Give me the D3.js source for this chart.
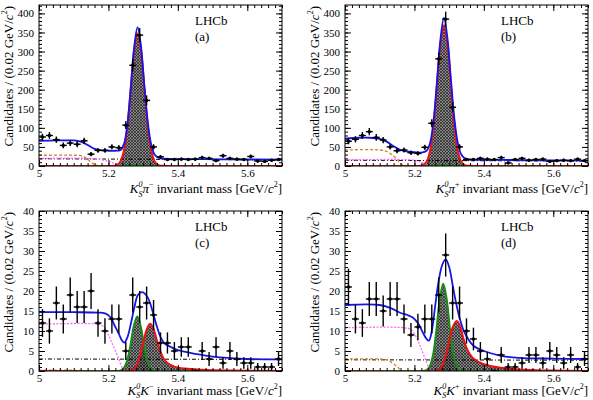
<!DOCTYPE html>
<html>
<head>
<meta charset="utf-8">
<script src="https://cdn.jsdelivr.net/npm/d3@7"></script>
<style>
  body { margin: 0; background: #fff; }
  svg { display: block; font-family: "Liberation Serif", "Times New Roman", serif; }
</style>
</head>
<body>
<div id="wrapper"></div>
<script>
// bin centres (0.02 GeV bins from 5.0 to 5.7)
const massBins = [5.01,5.03,5.05,5.07,5.09,5.11,5.13,5.15,5.17,5.19,5.21,5.23,5.25,5.27,5.29,5.31,5.33,5.35,
                  5.37,5.39,5.41,5.43,5.45,5.47,5.49,5.51,5.53,5.55,5.57,5.59,5.61,5.63,5.65,5.67,5.69];

// candidates per bin
const countsA = [76,80,69,54,60,57,66,31,41,41,50,48,107,264,343,172,50,24,17,17,18,17,18,22,20,14,27,20,18,17,25,13,12,15,17];
const countsB = [65,70,80,90,75,68,50,40,42,35,33,49,112,281,385,154,50,17,17,20,18,17,22,8,17,20,15,17,18,12,14,15,14,18,14];
const countsC = [12,10,17,13,19,16,16,20,12,10,13,13,5,19,16,17,14,7,7,5,6,6,0,5,3,6,2,5,3,2,2,1,1,1,3];
const countsD = [21,13,12,18,18,15,18,18,13,9,11,13,13,19,29,17,17,10,8,5,3,0,4,1,1,2,4,4,2,5,4,2,4,1,3];

// fit components, [mass, candidates]
const totalA = [[5.00,66],[5.05,67],[5.10,67],[5.12,64],[5.14,55],[5.16,45],[5.18,41],[5.20,40],[5.22,40],[5.235,42],
  [5.245,58],[5.255,112],[5.265,212],[5.275,318],[5.284,364],[5.293,320],[5.303,216],[5.313,118],[5.323,57],[5.333,30],
  [5.345,21],[5.36,19],[5.45,18],[5.55,17.5],[5.70,16.5]];
const signalA = [[5.00,0],[5.20,0],[5.224,2],[5.234,11],[5.244,38],[5.254,100],[5.264,199],[5.274,302],[5.284,347],
  [5.294,302],[5.304,199],[5.314,100],[5.324,38],[5.334,11],[5.344,2.5],[5.37,0.3],[5.70,0]];
const otherA = [[5.00,0],[5.25,0],[5.27,1.5],[5.285,2.5],[5.30,1.5],[5.32,0],[5.70,0]];
const partRecoA = [[5.00,20],[5.14,20],[5.17,18],[5.20,12],[5.22,6],[5.24,1],[5.25,0],[5.70,0]];
const charmlessA = [[5.00,28],[5.11,28],[5.12,27],[5.13,24],[5.14,18],[5.15,10],[5.16,4],[5.17,1],[5.18,0],[5.70,0]];
const combA = [[5.00,19],[5.70,16]];

const totalB = [[5.00,72],[5.04,74],[5.07,74],[5.10,71],[5.12,64],[5.14,52],[5.16,42],[5.18,38],[5.20,36],[5.22,35],
  [5.235,40],[5.245,60],[5.255,118],[5.265,222],[5.275,332],[5.285,388],[5.295,336],[5.305,228],[5.315,125],[5.325,60],
  [5.335,30],[5.345,20],[5.36,17],[5.45,16],[5.55,15],[5.70,14]];
const signalB = [[5.00,0],[5.20,0],[5.225,2.5],[5.235,11],[5.245,40],[5.255,106],[5.265,212],[5.275,321],[5.285,369],
  [5.295,321],[5.305,212],[5.315,106],[5.325,40],[5.335,11],[5.345,2.5],[5.37,0.3],[5.70,0]];
const otherB = [[5.00,0],[5.25,0],[5.27,1.5],[5.285,2.5],[5.30,1.5],[5.32,0],[5.70,0]];
const partRecoB = [[5.00,16],[5.19,16],[5.21,13],[5.23,6],[5.245,1],[5.26,0],[5.70,0]];
const charmlessB = [[5.00,42],[5.10,42],[5.12,38],[5.14,26],[5.155,12],[5.165,3],[5.175,0],[5.70,0]];
const combB = [[5.00,15],[5.70,13]];

const totalC = [[5.00,14.7],[5.10,14.7],[5.17,14.6],[5.19,14.4],[5.205,13.5],[5.22,11],[5.23,9.3],[5.24,7.5],[5.246,7.1],
  [5.255,8.5],[5.265,12],[5.275,16],[5.285,19],[5.297,19.7],[5.31,18.8],[5.32,17],[5.33,14],[5.34,11],[5.35,8.5],
  [5.36,7],[5.38,6],[5.40,5.2],[5.45,4.3],[5.50,3.6],[5.60,3],[5.70,2.9]];
const signalC = [[5.00,0],[5.26,0],[5.27,0.3],[5.28,1.2],[5.29,3.5],[5.30,7],[5.31,10.3],[5.32,11.8],[5.33,10.5],
  [5.34,7.5],[5.35,4.8],[5.36,3],[5.37,2],[5.39,1.1],[5.42,0.6],[5.47,0.3],[5.55,0.1],[5.70,0]];
const otherC = [[5.00,0],[5.22,0],[5.233,0.1],[5.243,0.6],[5.253,2.35],[5.263,6.2],[5.273,11.2],[5.283,13.6],
  [5.293,11.2],[5.303,6.2],[5.313,2.35],[5.323,0.6],[5.333,0.1],[5.35,0],[5.70,0]];
const partRecoC = [[5.00,11.7],[5.17,11.7],[5.185,11.2],[5.20,9],[5.215,6],[5.23,3],[5.24,0.8],[5.25,0],[5.70,0]];
const charmlessC = [[5.00,0.2],[5.10,0.2],[5.15,0],[5.70,0]];
const combC = [[5.00,3],[5.70,2.9]];

const totalD = [[5.00,16.5],[5.10,16.5],[5.13,15.8],[5.16,14.5],[5.18,14],[5.195,13.4],[5.21,12],[5.225,9.5],[5.235,8],
  [5.242,7.6],[5.25,10],[5.258,15],[5.268,21.5],[5.28,26.5],[5.29,27.9],[5.30,26],[5.31,21.5],[5.32,17],[5.33,13.3],
  [5.34,10.5],[5.35,8.7],[5.37,6.3],[5.40,5],[5.45,3.8],[5.50,3.3],[5.60,3.1],[5.70,3]];
const signalD = [[5.00,0],[5.26,0],[5.27,0.3],[5.28,1.3],[5.29,3.7],[5.30,7.4],[5.31,10.9],[5.322,12.5],[5.33,11.5],
  [5.34,8.5],[5.35,5.8],[5.36,4.2],[5.37,3.1],[5.40,1.7],[5.45,0.8],[5.50,0.4],[5.60,0.1],[5.70,0]];
const otherD = [[5.00,0],[5.22,0],[5.233,0.17],[5.243,0.96],[5.253,3.75],[5.263,10],[5.273,17.9],[5.283,21.8],
  [5.293,17.9],[5.303,10],[5.313,3.75],[5.323,0.96],[5.333,0.17],[5.35,0],[5.70,0]];
const partRecoD = [[5.00,10.8],[5.17,10.8],[5.19,10.3],[5.205,8.5],[5.22,5.5],[5.235,2.2],[5.245,0.3],[5.25,0],[5.70,0]];
const charmlessD = [[5.00,3],[5.10,3],[5.12,2.8],[5.14,1.8],[5.155,0.7],[5.165,0],[5.70,0]];
const combD = [[5.00,2.8],[5.70,2.7]];

const massDomain = [5.0, 5.7];
const xTickLabels = [5.0, 5.2, 5.4, 5.6];

const svg = d3.select("#wrapper").append("svg")
    .attr("width", 593)
    .attr("height", 400);

const defs = svg.append("defs");
const hatch = defs.append("pattern")
    .attr("id", "hatch")
    .attr("width", 3).attr("height", 3)
    .attr("patternUnits", "userSpaceOnUse");
hatch.append("rect").attr("width", 3).attr("height", 3).attr("fill", "rgba(95,95,95,0.75)");
hatch.append("path").attr("d", "M0,0L3,3M3,0L0,3").attr("stroke", "#111").attr("stroke-width", 0.6);

// text made of pieces: it = italic, sup / sub shift
function richText(sel, parts) {
    let shift = 0;
    parts.forEach(p => {
        const target = p.sup ? -6 : p.sub ? 3.5 : 0;
        const ts = sel.append("tspan").text(p.t).attr("dy", target - shift);
        shift = target;
        if (p.it) ts.attr("font-style", "italic");
        if (p.sup || p.sub) ts.attr("font-size", "8px");
        if (p.dx) ts.attr("dx", p.dx);
    });
}

const yTitle = [{t: "Candidates / (0.02 GeV/"}, {t: "c", it: true}, {t: "2", sup: true}, {t: ")"}];

const panels = [
    {name: "(a)", left: 39, right: 282, top: 5, bottom: 166, ymax: 422, major: 50, minor: 10, titleGap: 27,
     counts: countsA, total: totalA, signal: signalA, other: otherA, partReco: partRecoA, charmless: charmlessA, comb: combA,
     title: [{t: "K", it: true}, {t: "0", sup: true, it: true}, {t: "S", sub: true, it: true, dx: -4}, {t: "π", it: true},
             {t: "−", sup: true}, {t: " invariant mass [GeV/"}, {t: "c", it: true}, {t: "2", sup: true}, {t: "]"}]},
    {name: "(b)", left: 345, right: 588, top: 5, bottom: 166, ymax: 422, major: 50, minor: 10, titleGap: 27,
     counts: countsB, total: totalB, signal: signalB, other: otherB, partReco: partRecoB, charmless: charmlessB, comb: combB,
     title: [{t: "K", it: true}, {t: "0", sup: true, it: true}, {t: "S", sub: true, it: true, dx: -4}, {t: "π", it: true},
             {t: "+", sup: true}, {t: " invariant mass [GeV/"}, {t: "c", it: true}, {t: "2", sup: true}, {t: "]"}]},
    {name: "(c)", left: 39, right: 282, top: 211, bottom: 371, ymax: 40, major: 5, minor: 1, titleGap: 23.5,
     counts: countsC, total: totalC, signal: signalC, other: otherC, partReco: partRecoC, charmless: charmlessC, comb: combC,
     title: [{t: "K", it: true}, {t: "0", sup: true, it: true}, {t: "S", sub: true, it: true, dx: -4}, {t: "K", it: true},
             {t: "−", sup: true}, {t: " invariant mass [GeV/"}, {t: "c", it: true}, {t: "2", sup: true}, {t: "]"}]},
    {name: "(d)", left: 345, right: 588, top: 211, bottom: 371, ymax: 40, major: 5, minor: 1, titleGap: 23.5,
     counts: countsD, total: totalD, signal: signalD, other: otherD, partReco: partRecoD, charmless: charmlessD, comb: combD,
     title: [{t: "K", it: true}, {t: "0", sup: true, it: true}, {t: "S", sub: true, it: true, dx: -4}, {t: "K", it: true},
             {t: "+", sup: true}, {t: " invariant mass [GeV/"}, {t: "c", it: true}, {t: "2", sup: true}, {t: "]"}]}
];

panels.forEach((p, idx) => {
    const x = d3.scaleLinear().domain(massDomain).range([p.left, p.right]);
    const y = d3.scaleLinear().domain([0, p.ymax]).range([p.bottom, p.top]);
    const g = svg.append("g");

    const clipId = "clip" + idx;
    defs.append("clipPath").attr("id", clipId)
        .append("rect")
        .attr("x", p.left).attr("y", p.top)
        .attr("width", p.right - p.left).attr("height", p.bottom - p.top);

    const plot = g.append("g").attr("clip-path", `url(#${clipId})`);

    const line = d3.line().x(d => x(d[0])).y(d => y(d[1])).curve(d3.curveCatmullRom.alpha(0.5));
    const area = d3.area().x(d => x(d[0])).y0(y(0)).y1(d => y(d[1])).curve(d3.curveCatmullRom.alpha(0.5));

    // filled peaks
    plot.append("path").datum(p.other).attr("d", area).attr("fill", "url(#hatch)");
    plot.append("path").datum(p.signal).attr("d", area).attr("fill", "url(#hatch)");

    // background components
    plot.append("path").datum(p.comb).attr("d", line)
        .attr("fill", "none").attr("stroke", "#000").attr("stroke-width", 1)
        .attr("stroke-dasharray", "4,2,1,2");
    plot.append("path").datum(p.charmless).attr("d", line)
        .attr("fill", "none").attr("stroke", "#d4802a").attr("stroke-width", 1.3)
        .attr("stroke-dasharray", "3,2");
    plot.append("path").datum(p.partReco).attr("d", line)
        .attr("fill", "none").attr("stroke", "#ff66ff").attr("stroke-width", 1.3)
        .attr("stroke-dasharray", "2,1.5");

    plot.append("path").datum(p.other).attr("d", line)
        .attr("fill", "none").attr("stroke", "#1a8c1a").attr("stroke-width", 2);
    plot.append("path").datum(p.signal).attr("d", line)
        .attr("fill", "none").attr("stroke", "#ee1111").attr("stroke-width", 2);
    plot.append("path").datum(p.total).attr("d", line)
        .attr("fill", "none").attr("stroke", "#1515e6").attr("stroke-width", 1.8);

    // data points with sqrt(N) errors
    const pts = plot.selectAll("g.pt")
        .data(massBins.map((m, i) => ({m: m, n: p.counts[i]})))
        .join("g").attr("class", "pt");
    pts.append("line")
        .attr("x1", d => x(d.m - 0.01)).attr("x2", d => x(d.m + 0.01))
        .attr("y1", d => y(d.n)).attr("y2", d => y(d.n))
        .attr("stroke", "#000").attr("stroke-width", 1.4);
    pts.append("line")
        .attr("x1", d => x(d.m)).attr("x2", d => x(d.m))
        .attr("y1", d => y(d.n - Math.sqrt(d.n))).attr("y2", d => y(d.n + Math.sqrt(d.n)))
        .attr("stroke", "#000").attr("stroke-width", 1.4);
    pts.append("circle")
        .attr("cx", d => x(d.m)).attr("cy", d => y(d.n)).attr("r", 1.7)
        .attr("fill", "#000");

    // axes, ticks pointing inwards on all four sides
    const yMajor = d3.range(0, p.ymax + 0.001, p.major);
    const yMinor = d3.range(0, p.ymax + 0.001, p.minor);
    const xMinor = d3.range(5.0, 5.7001, 0.02);

    const styleAxis = a => {
        a.select(".domain").remove();
        a.selectAll("line").attr("stroke", "#000");
        a.selectAll("text").attr("font-family", "Liberation Serif").attr("font-size", "11px").attr("fill", "#000");
    };

    g.append("g").attr("transform", `translate(0,${p.bottom})`)
        .call(d3.axisBottom(x).tickValues(xTickLabels).tickSize(-6).tickPadding(3).tickFormat(d3.format("")))
        .call(styleAxis);
    g.append("g").attr("transform", `translate(0,${p.bottom})`)
        .call(d3.axisBottom(x).tickValues(xMinor).tickSize(-3).tickFormat(""))
        .call(styleAxis);
    g.append("g").attr("transform", `translate(0,${p.top})`)
        .call(d3.axisTop(x).tickValues(xTickLabels).tickSize(-6).tickFormat(""))
        .call(styleAxis);
    g.append("g").attr("transform", `translate(0,${p.top})`)
        .call(d3.axisTop(x).tickValues(xMinor).tickSize(-3).tickFormat(""))
        .call(styleAxis);

    g.append("g").attr("transform", `translate(${p.left},0)`)
        .call(d3.axisLeft(y).tickValues(yMajor).tickSize(-6).tickPadding(5).tickFormat(d3.format("")))
        .call(styleAxis);
    g.append("g").attr("transform", `translate(${p.left},0)`)
        .call(d3.axisLeft(y).tickValues(yMinor).tickSize(-3).tickFormat(""))
        .call(styleAxis);
    g.append("g").attr("transform", `translate(${p.right},0)`)
        .call(d3.axisRight(y).tickValues(yMajor).tickSize(-6).tickFormat(""))
        .call(styleAxis);
    g.append("g").attr("transform", `translate(${p.right},0)`)
        .call(d3.axisRight(y).tickValues(yMinor).tickSize(-3).tickFormat(""))
        .call(styleAxis);

    g.append("rect")
        .attr("x", p.left).attr("y", p.top)
        .attr("width", p.right - p.left).attr("height", p.bottom - p.top)
        .attr("fill", "none").attr("stroke", "#000").attr("stroke-width", 1);

    // titles
    const xt = g.append("text")
        .attr("x", p.right).attr("y", p.bottom + p.titleGap)
        .attr("text-anchor", "end").attr("font-size", "13px");
    richText(xt, p.title);

    const yt = g.append("text")
        .attr("transform", `translate(${p.left - 26},${p.top + 1}) rotate(-90)`)
        .attr("text-anchor", "end").attr("font-size", "13px");
    richText(yt, yTitle);

    g.append("text").attr("x", p.left + 156).attr("y", p.top + 20)
        .attr("font-size", "13px").text("LHCb");
    g.append("text").attr("x", p.left + 156).attr("y", p.top + 36)
        .attr("font-size", "13px").text(p.name);
});
</script>
</body>
</html>
